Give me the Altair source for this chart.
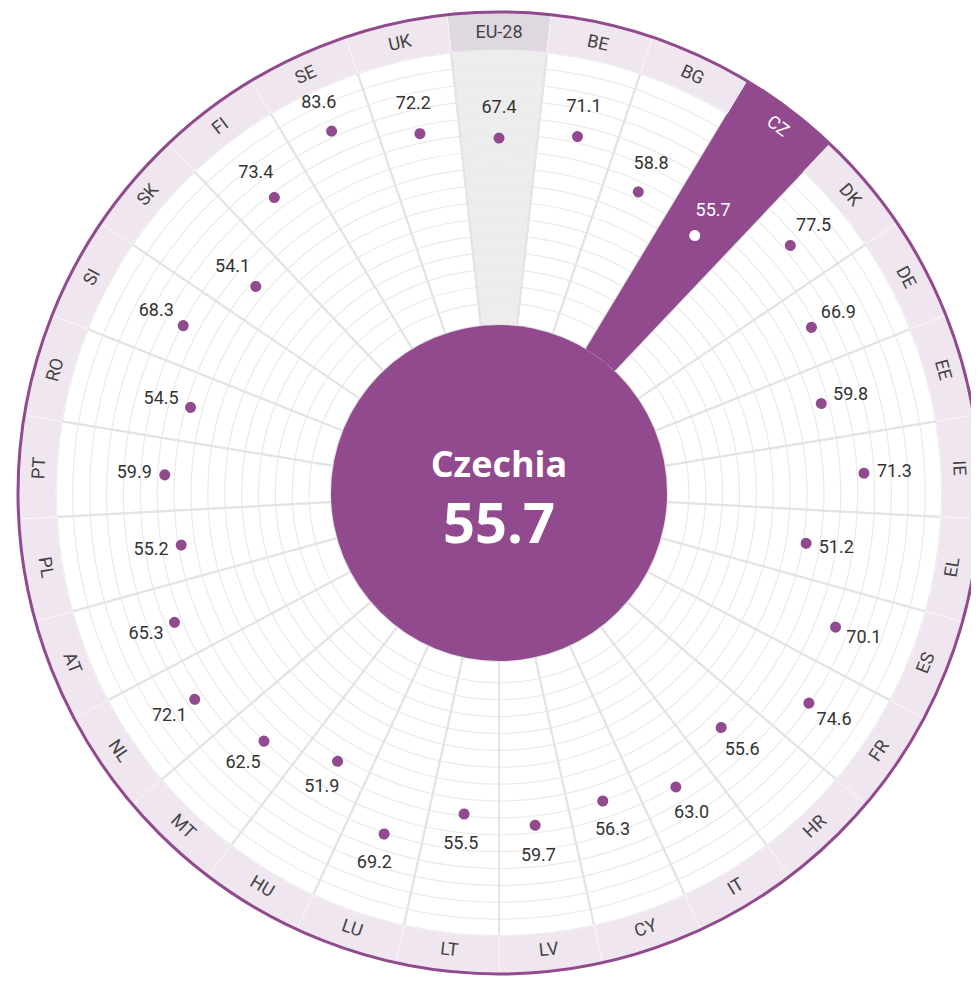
import math
import altair as alt
import pandas as pd

# ---------------- data ----------------
CODES = ["EU-28", "BE", "BG", "CZ", "DK", "DE", "EE", "IE", "EL", "ES", "FR", "HR",
         "IT", "CY", "LV", "LT", "LU", "HU", "MT", "NL", "AT", "PL", "PT", "RO",
         "SI", "SK", "FI", "SE", "UK"]
VALUES = [67.4, 71.1, 58.8, 55.7, 77.5, 66.9, 59.8, 71.3, 51.2, 70.1, 74.6, 55.6,
          63.0, 56.3, 59.7, 55.5, 69.2, 51.9, 62.5, 72.1, 65.3, 55.2, 59.9, 54.5,
          68.3, 54.1, 73.4, 83.6, 72.2]
SELECTED = "CZ"
SELECTED_NAME = "Czechia"
AVERAGE = "EU-28"
VALUE_DOMAIN = [0, 100]
GRID_STEPS = 16

# ---------------- layout / style ----------------
N = len(CODES)
W, H = 963, 968
CX, CY = 491, 485
R_IN = 168       # inner purple disc
R_ZERO = 173     # radius of value 0
R_RING = 443     # inner edge of label ring (value 100)
R_OUT = 481      # outer border
R_LABEL = 460
PURPLE = "#924a8e"
RING = "#efe6ef"
RING_AVG = "#e0d8e0"
AVG_BG = "#ededed"
TEXT = "#333333"

df = pd.DataFrame({"code": CODES, "value": VALUES, "idx": list(range(N))})
center_df = pd.DataFrame({"name": [SELECTED_NAME],
                          "value": [VALUES[CODES.index(SELECTED)]]})

THETA_SCALE = alt.Scale(domain=[-0.5, N - 0.5],
                        range=[-math.pi / N, 2 * math.pi - math.pi / N],
                        nice=False, zero=False)
R_SCALE = alt.Scale(type="linear", domain=VALUE_DOMAIN, range=[R_ZERO, R_RING],
                    nice=False, zero=False)

XC = alt.value(CX)
YC = alt.value(CY)

base = alt.Chart(df).transform_calculate(
    t0="datum.idx - 0.5",
    t1="datum.idx + 0.5",
    d0="datum.idx - 0.0005",
    d1="datum.idx + 0.0005",
    lr="datum.value + 11.3",
    ang=f"datum.idx * 360 / {N}",
).transform_calculate(
    rot="((datum.ang > 90 && datum.ang < 270) ? datum.ang - 180 : datum.ang) + 360",
).transform_calculate(
    rot="datum.rot % 360"
)

is_sel = alt.datum.code == SELECTED
is_avg = alt.datum.code == AVERAGE

sector_theta = dict(
    theta=alt.Theta("t0:Q", scale=THETA_SCALE, stack=False),
    theta2=alt.Theta2("t1:Q"),
)

# 1 sector backgrounds
bg = base.mark_arc(strokeWidth=0).encode(
    **sector_theta,
    radius=alt.value(R_RING), radius2=alt.value(R_IN),
    x=XC, y=YC,
    color=alt.condition(is_avg, alt.value(AVG_BG), alt.value("white")),
)

# 2 concentric grid circles
grid = alt.Chart(alt.sequence(1, GRID_STEPS, as_="k")).transform_calculate(
    g=f"datum.k * {VALUE_DOMAIN[1]} / {GRID_STEPS}"
).mark_arc(filled=False, stroke="#eaeaea", strokeWidth=1.2,
           theta=0, theta2=2 * math.pi).encode(
    radius=alt.Radius("g:Q", scale=R_SCALE),
    radius2=alt.Radius2("g:Q"),
    x=XC, y=YC,
)

# 3 radial separators
sep = base.mark_arc(filled=False, stroke="#e4e4e4", strokeWidth=2).encode(
    **sector_theta,
    radius=alt.value(R_RING), radius2=alt.value(R_IN),
    x=XC, y=YC,
)

# 4 selected wedge
wedge = base.transform_filter(is_sel).mark_arc(color=PURPLE, strokeWidth=0).encode(
    **sector_theta,
    radius=alt.value(R_OUT), radius2=alt.value(R_IN),
    x=XC, y=YC,
)

# 5 label ring
ring = base.transform_filter(alt.datum.code != SELECTED).mark_arc(
    stroke="white", strokeWidth=0.8, strokeOpacity=0.6).encode(
    **sector_theta,
    radius=alt.value(R_OUT), radius2=alt.value(R_RING),
    x=XC, y=YC,
    fill=alt.condition(is_avg, alt.value(RING_AVG), alt.value(RING)),
)

# 6 outer border
border = base.transform_filter(is_sel).mark_arc(
    filled=False, stroke=PURPLE, strokeWidth=3, theta=0, theta2=2 * math.pi).encode(
    radius=alt.value(R_OUT), radius2=alt.value(R_OUT),
    x=XC, y=YC,
)

# 7 inner disc
disc = base.transform_filter(is_sel).mark_arc(
    color=PURPLE, strokeWidth=0, theta=0, theta2=2 * math.pi).encode(
    radius=alt.value(R_IN), radius2=alt.value(0),
    x=XC, y=YC,
)

# 8 dots
dots = base.mark_arc(filled=False, strokeWidth=11, strokeJoin="round",
                     strokeCap="round").encode(
    theta=alt.Theta("d0:Q", scale=THETA_SCALE, stack=False),
    theta2=alt.Theta2("d1:Q"),
    radius=alt.Radius("value:Q", scale=R_SCALE),
    radius2=alt.Radius2("value:Q"),
    x=XC, y=YC,
    color=alt.condition(is_sel, alt.value("white"), alt.value(PURPLE)),
)

# 9 value labels
vlabels = base.mark_text(font="Roboto", fontSize=18, align="center",
                         baseline="middle").encode(
    theta=alt.Theta("idx:Q", scale=THETA_SCALE, stack=False),
    radius=alt.Radius("lr:Q", scale=R_SCALE),
    x=XC, y=YC,
    text=alt.Text("value:Q", format=".1f"),
    color=alt.condition(is_sel, alt.value("white"), alt.value(TEXT)),
)

# 10 ring labels
clabels = base.mark_text(font="Roboto", fontSize=18, align="center",
                         baseline="middle").encode(
    theta=alt.Theta("idx:Q", scale=THETA_SCALE, stack=False),
    radius=alt.value(R_LABEL),
    x=XC, y=YC,
    angle=alt.Angle("rot:Q", scale=None),
    text="code:N",
    color=alt.condition(is_sel, alt.value("white"), alt.value("#444444")),
)

# 11 center texts
cname = alt.Chart(center_df).mark_text(
    font="Open Sans", fontWeight="bold", fontSize=36, color="white",
    align="center", baseline="alphabetic").encode(
    x=XC, y=alt.value(CY - 16), text="name:N")
cval = alt.Chart(center_df).mark_text(
    font="Open Sans", fontWeight="bold", fontSize=56, color="white",
    align="center", baseline="alphabetic").encode(
    x=XC, y=alt.value(CY + 50), text=alt.Text("value:Q", format=".1f"))

chart = alt.layer(
    bg, grid, sep, wedge, ring, border, disc, dots, vlabels, clabels, cname, cval
).properties(
    width=W, height=H, padding=0,
    autosize=alt.AutoSizeParams(type="none"),
    background="white",
).configure_view(stroke=None)

chart.save("out.html", embed_options={"renderer": "svg", "actions": False})
